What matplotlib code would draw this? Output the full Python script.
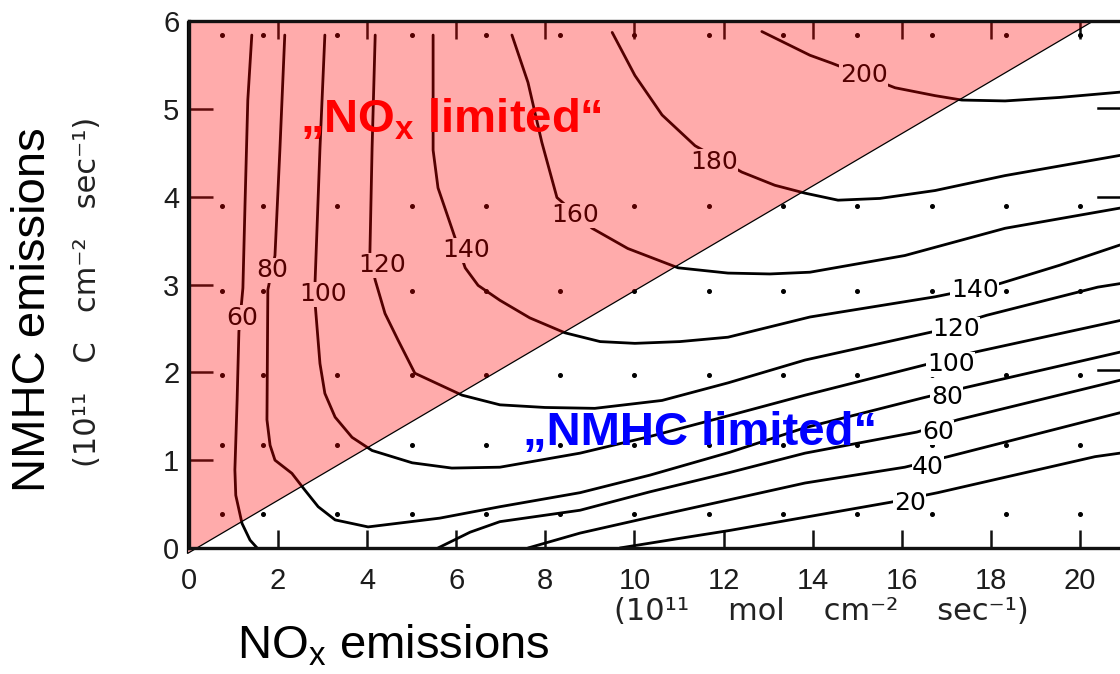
import matplotlib.pyplot as plt
from matplotlib.patches import Polygon

plt.rcParams['font.family'] = ['Liberation Sans', 'DejaVu Sans']
plt.rcParams['mathtext.fontset'] = 'custom'
plt.rcParams['mathtext.rm'] = 'Liberation Sans'
plt.rcParams['mathtext.bf'] = 'Liberation Sans:bold'
plt.rcParams['mathtext.it'] = 'Liberation Sans:italic'

# ozone isopleths (ppb)
# x = NOx emissions, y = NMHC emissions
o3_20_nox = [9.67, 11.02, 12.14, 13.83, 15.74, 16.81, 20.34, 20.90]
o3_20_nmhc = [0.00, 0.11, 0.20, 0.35, 0.52, 0.63, 1.04, 1.08]

o3_40_nox = [7.61, 8.78, 10.35, 12.14, 13.83, 16.07, 17.04, 20.90]
o3_40_nmhc = [0.00, 0.17, 0.35, 0.55, 0.74, 0.92, 1.04, 1.54]

o3_60a_nox = [1.41, 1.32, 1.26, 1.21, 1.12, 1.08, 1.03, 1.05, 1.19, 1.37, 1.53]
o3_60a_nmhc = [5.84, 5.10, 3.96, 2.96, 2.46, 1.68, 0.89, 0.60, 0.28, 0.09, 0.00]

o3_60b_nox = [5.59, 6.31, 6.98, 8.78, 10.35, 12.14, 13.83, 16.34, 17.26, 20.90]
o3_60b_nmhc = [0.00, 0.18, 0.30, 0.43, 0.64, 0.86, 1.08, 1.32, 1.46, 1.91]

o3_80_nox = [2.15, 2.04, 1.93, 1.77, 1.75, 1.82, 1.93, 2.31, 2.60, 2.90, 3.28,
             4.02, 5.63, 6.98, 8.78, 10.35, 12.14, 13.83, 16.48, 17.46, 20.90]
o3_80_nmhc = [5.84, 4.53, 3.33, 2.94, 1.46, 1.17, 1.00, 0.85, 0.66, 0.47, 0.32,
              0.24, 0.34, 0.47, 0.63, 0.83, 1.09, 1.37, 1.71, 1.83, 2.23]

o3_100_nox = [3.05, 2.94, 2.83, 2.83, 2.94, 3.05, 3.28, 3.66, 4.11, 5.01, 5.90,
              6.98, 8.78, 10.35, 12.14, 13.83, 16.48, 17.64, 20.90]
o3_100_nmhc = [5.84, 4.55, 3.03, 2.79, 2.10, 1.76, 1.49, 1.26, 1.11, 0.97, 0.91,
               0.92, 1.08, 1.27, 1.51, 1.74, 2.08, 2.23, 2.59]

o3_120_nox = [4.18, 4.11, 4.06, 4.18, 4.40, 4.69, 5.07, 6.13, 6.98, 7.99, 9.11,
              10.62, 12.10, 13.83, 16.68, 17.91, 20.40, 20.90]
o3_120_nmhc = [5.84, 4.55, 3.33, 3.05, 2.67, 2.37, 1.99, 1.74, 1.63, 1.60, 1.59,
               1.68, 1.88, 2.14, 2.46, 2.65, 2.97, 3.01]

o3_140_nox = [5.48, 5.48, 5.59, 5.90, 6.20, 6.49, 6.98, 7.65, 8.44, 9.23, 10.01,
              11.02, 12.10, 13.94, 16.75, 18.20, 19.55, 20.90]
o3_140_nmhc = [5.84, 4.53, 4.10, 3.64, 3.19, 2.99, 2.82, 2.62, 2.45, 2.35, 2.33,
               2.35, 2.40, 2.63, 2.86, 3.01, 3.22, 3.45]

o3_160_nox = [7.25, 7.61, 7.92, 8.26, 9.05, 9.85, 10.98, 12.10, 13.04, 13.94,
              16.07, 18.32, 20.90]
o3_160_nmhc = [5.84, 5.30, 4.62, 3.99, 3.64, 3.41, 3.19, 3.13, 3.12, 3.14,
               3.33, 3.64, 3.87]

o3_180_nox = [9.50, 10.01, 10.62, 11.36, 12.41, 13.15, 13.83, 14.57, 15.51,
              16.75, 18.32, 20.90]
o3_180_nmhc = [5.87, 5.38, 4.93, 4.58, 4.28, 4.13, 4.04, 3.96, 3.98,
               4.07, 4.24, 4.47]

o3_200_nox = [12.86, 13.94, 14.43, 15.85, 16.75, 17.35, 18.32, 19.55, 20.90]
o3_200_nmhc = [5.88, 5.61, 5.52, 5.24, 5.15, 5.10, 5.09, 5.13, 5.19]

# isopleth labels
label_text = ["60", "80", "100", "120", "140", "160", "180", "200",
              "140", "120", "100", "80", "60", "40", "20"]
label_nox = [1.19, 1.86, 3.01, 4.33, 6.22, 8.66, 11.78, 15.15,
             17.64, 17.22, 17.10, 17.01, 16.81, 16.59, 16.18]
label_nmhc = [2.62, 3.16, 2.89, 3.22, 3.39, 3.79, 4.40, 5.38,
              2.94, 2.49, 2.09, 1.72, 1.32, 0.92, 0.51]

# model grid points (small dots)
grid_nox = [0.75, 1.67, 3.33, 5.0, 6.67, 8.33, 10.0, 11.67, 13.33, 15.0,
            16.67, 18.33, 20.0]
grid_nmhc = [0.39, 1.17, 1.97, 2.93, 3.89, 5.84]

# cut-off label stubs at the right edge of the scan
stub_nox = [20.40, 20.90]
stub_nmhc = [5.01, 4.00, 2.03]

# "NOx limited" triangle
tri_nox = [-0.05, -0.05, 20.27]
tri_nmhc = [-0.06, 6.0, 6.0]

isopleths = [
    (o3_20_nox, o3_20_nmhc), (o3_40_nox, o3_40_nmhc),
    (o3_60a_nox, o3_60a_nmhc), (o3_60b_nox, o3_60b_nmhc),
    (o3_80_nox, o3_80_nmhc), (o3_100_nox, o3_100_nmhc),
    (o3_120_nox, o3_120_nmhc), (o3_140_nox, o3_140_nmhc),
    (o3_160_nox, o3_160_nmhc), (o3_180_nox, o3_180_nmhc),
    (o3_200_nox, o3_200_nmhc),
]

fig = plt.figure(figsize=(11.2, 6.74), dpi=100, facecolor="white")
ax = fig.add_axes([189 / 1120, 126 / 674, 931 / 1120, 527 / 674])

for xs, ys in isopleths:
    ax.plot(xs, ys, color="black", linewidth=2.0, zorder=2,
            solid_capstyle="round")

for y in stub_nmhc:
    ax.plot(stub_nox, [y, y], color="black", linewidth=1.8, zorder=2)

gx = [x for x in grid_nox for _ in grid_nmhc]
gy = [y for _ in grid_nox for y in grid_nmhc]
ax.plot(gx, gy, linestyle="none", marker="o", markersize=2.6,
        color="black", zorder=2)

for txt, x, y in zip(label_text, label_nox, label_nmhc):
    ax.text(x, y, txt, ha="center", va="center", fontsize=18,
            family="DejaVu Sans", color="black", zorder=3,
            bbox=dict(facecolor="white", edgecolor="none", pad=0.4))

tri = Polygon(list(zip(tri_nox, tri_nmhc)), closed=True,
              facecolor=(1.0, 0.0, 0.0, 0.33), edgecolor="black",
              linewidth=0.9, zorder=4, clip_on=False)
ax.add_patch(tri)

ax.set_xlim(0, 20.9)
ax.set_ylim(0, 6.0)
ax.set_xticks(range(0, 21, 2))
ax.set_yticks(range(0, 7))

ax.spines["right"].set_visible(False)
for side in ["left", "bottom", "top"]:
    ax.spines[side].set_linewidth(2.4)
    ax.spines[side].set_color("#111111")
    ax.spines[side].set_zorder(5)

ax.tick_params(axis="x", direction="in", length=13, width=1.8, top=True,
               labelsize=21, pad=14, labelcolor="#1c1c1c", color="#111111")
ax.tick_params(axis="y", direction="in", length=17, width=1.8,
               labelsize=21, pad=7, labelcolor="#1c1c1c", color="#111111")

# annotations
fig.text(300 / 1120, 1 - 133 / 674, "„NO$_\\mathbf{x}$ limited“",
         color="#ff0000", fontsize=34, fontweight="bold",
         ha="left", va="baseline", zorder=6)
fig.text(523 / 1120, 1 - 445 / 674, "„NMHC limited“",
         color="#0000ff", fontsize=34, fontweight="bold",
         ha="left", va="baseline", zorder=6)

fig.text(33 / 1120, 1 - 310 / 674, "NMHC emissions", rotation=90,
         fontsize=34, ha="center", va="center", color="black")
fig.text(237 / 1120, 1 - 658 / 674, "NO$_\\mathrm{x}$ emissions",
         fontsize=34, ha="left", va="baseline", color="black")

fig.text(821 / 1120, 1 - 612 / 674,
         "(10¹¹    mol    cm⁻²    sec⁻¹)", family="DejaVu Sans",
         fontsize=22, ha="center", va="center", color="#222222")
fig.text(88 / 1120, 1 - 292 / 674,
         "(10¹¹   C   cm⁻²   sec⁻¹)", rotation=90, family="DejaVu Sans",
         fontsize=22, ha="center", va="center", color="#222222")

fig.savefig("out.png", dpi=100, facecolor="white")
